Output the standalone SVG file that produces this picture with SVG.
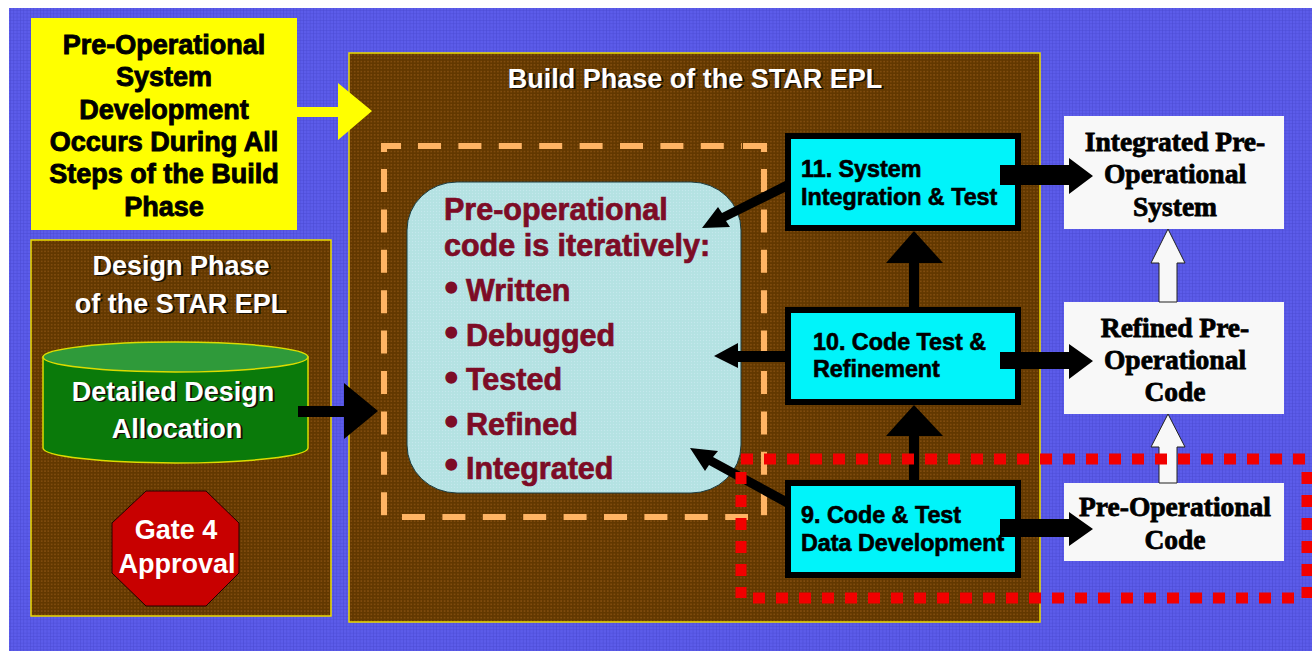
<svg xmlns="http://www.w3.org/2000/svg" width="1312" height="651" viewBox="0 0 1312 651">
<defs>
<pattern id="pBlue" width="3.330" height="3.330" patternUnits="userSpaceOnUse">
<rect width="3.330" height="3.330" fill="#5c5cea"/>
<path d="M0 0H3.330M0 0V3.330" stroke="#4a4ad2" stroke-width="1"/>
</pattern>
<pattern id="pBrown" width="3.330" height="3.330" patternUnits="userSpaceOnUse">
<rect width="3.330" height="3.330" fill="#623800"/>
<circle cx="1.700" cy="1.700" r=".9" fill="#865010"/>
</pattern>
<pattern id="pPale" width="3" height="3" patternUnits="userSpaceOnUse">
<rect width="3" height="3" fill="#b4e2e2"/>
<circle cx="1.500" cy="1.500" r=".7" fill="#c4e8ec"/>
</pattern>
</defs>
<style>
text{font-family:"Liberation Sans",Arial,sans-serif;font-weight:bold;text-anchor:middle}
.w{fill:#fff;font-size:27px}
.sh{fill:#14100a;font-size:27px}
.k{fill:#000;stroke:#000;stroke-width:.9px;font-size:27px}
.b{fill:#000;stroke:#000;stroke-width:.6px;font-size:23.300px;text-anchor:start}
.s{fill:#000;stroke:#000;stroke-width:.8px;font-family:"Liberation Serif","Times New Roman",serif;font-size:27.500px}
.m{fill:#7d0c26;stroke:#7d0c26;stroke-width:.7px;font-size:30.500px;text-anchor:start}
.dot{font-size:36px;stroke-width:1.500px}
.panel{fill:url(#pBrown);stroke:#ecdc00;stroke-width:1.500px}
.step{fill:#00f4fa;stroke:#000;stroke-width:6px}
.out{fill:#f8f8f8}
.ar{fill:#000}
.wa{fill:#f8f8f8;stroke:#222;stroke-width:1px}
.dash{fill:none;stroke:#ffb464;stroke-width:6px;stroke-dasharray:23 17.400}
.dot-line{fill:none;stroke:#f20000;stroke-width:11px;stroke-dasharray:12 11}
</style>
<rect x="0" y="0" width="1312" height="651" fill="#fff"/>
<rect x="9" y="8" width="1303" height="643" fill="url(#pBlue)"/>

<g id="design-phase">
<rect class="panel" x="31" y="240" width="300" height="376"/>
<text class="sh" x="183" y="276">Design Phase</text><text class="w" x="181" y="275">Design Phase</text>
<text class="sh" x="183" y="314">of the STAR EPL</text><text class="w" x="181" y="313">of the STAR EPL</text>
</g>
<g id="build-phase">
<rect class="panel" x="349" y="53" width="691" height="569"/>
<text class="sh" x="697" y="89">Build Phase of the STAR EPL</text><text class="w" x="695" y="88">Build Phase of the STAR EPL</text>
<path class="dash" style="stroke-dasharray:none" d="M384 152V146H401M743 146H764V152"/>
<path class="dash" d="M418 146H742"/>
<path class="dash" d="M384 169V518"/>
<path class="dash" d="M764 169V518"/>
<path class="dash" d="M402 517H748"/>
</g>
<g id="pre-op-note">
<rect x="31" y="18" width="266" height="212" fill="#ffff00"/>
<text class="k" x="164" y="54">Pre-Operational</text>
<text class="k" x="164" y="86">System</text>
<text class="k" x="164" y="119">Development</text>
<text class="k" x="164" y="151">Occurs During All</text>
<text class="k" x="164" y="183">Steps of the Build</text>
<text class="k" x="164" y="216">Phase</text>
</g>
<g id="iterative-code">
<rect x="407" y="182" width="334" height="311" rx="50" ry="48" fill="url(#pPale)" stroke="#1c3c40" stroke-width="1"/>
<text class="m" x="444" y="220">Pre-operational</text>
<text class="m" x="444" y="256">code is iteratively:</text>
<text class="m"><tspan class="dot" x="445" y="300">•</tspan><tspan x="466" y="301">Written</tspan></text>
<text class="m"><tspan class="dot" x="445" y="345">•</tspan><tspan x="466" y="346">Debugged</tspan></text>
<text class="m"><tspan class="dot" x="445" y="390">•</tspan><tspan x="466" y="390">Tested</tspan></text>
<text class="m"><tspan class="dot" x="445" y="434">•</tspan><tspan x="466" y="435">Refined</tspan></text>
<text class="m"><tspan class="dot" x="445" y="477">•</tspan><tspan x="466" y="479">Integrated</tspan></text>
</g>
<g id="detailed-design">
<path d="M43 357V448A132.500 15 0 0 0 308 448V357Z" fill="#0a7a0a" stroke="#dcdc00" stroke-width="1.500"/>
<ellipse cx="175.500" cy="357" rx="132.500" ry="15" fill="#2f9a3a" stroke="#dcdc00" stroke-width="1.500"/>
<text class="sh" x="175" y="402">Detailed Design</text><text class="w" x="173" y="401">Detailed Design</text>
<text class="sh" x="179" y="439">Allocation</text><text class="w" x="177" y="438">Allocation</text>
</g>
<g id="gate-4">
<polygon points="146,491 206,491 239,523 239,573 206,606 146,606 112,573 112,523" fill="#c80000" stroke="#200" stroke-width="1"/>
<text class="w" x="176" y="539">Gate 4</text>
<text class="w" x="177" y="573">Approval</text>
</g>
<g id="step-11">
<rect class="step" x="788" y="136" width="230" height="92"/>
<text class="b" x="801" y="177">11. System</text>
<text class="b" x="801" y="205">Integration &amp; Test</text>
</g>
<g id="step-10">
<rect class="step" x="788" y="310" width="230" height="92"/>
<text class="b" x="813" y="350">10. Code Test &amp;</text>
<text class="b" x="813" y="377">Refinement</text>
</g>
<g id="step-9">
<rect class="step" x="788" y="483" width="230" height="92"/>
<text class="b" x="801" y="523">9. Code &amp; Test</text>
<text class="b" x="801" y="551">Data Development</text>
</g>
<g id="integrated-system">
<rect class="out" x="1064" y="116" width="220" height="113"/>
<text class="s" x="1175" y="151">Integrated Pre-</text>
<text class="s" x="1175" y="183">Operational</text>
<text class="s" x="1175" y="216">System</text>
</g>
<g id="refined-code">
<rect class="out" x="1064" y="302" width="220" height="112"/>
<text class="s" x="1175" y="337">Refined Pre-</text>
<text class="s" x="1175" y="369">Operational</text>
<text class="s" x="1175" y="401">Code</text>
</g>
<g id="pre-op-code">
<rect class="out" x="1064" y="483" width="220" height="78"/>
<text class="s" x="1175" y="516">Pre-Operational</text>
<text class="s" x="1175" y="549">Code</text>
</g>
<g id="connectors">
<polygon fill="#ffff00" points="297,107 338,107 338,83 372,111 338,140 338,117 297,117"/>
<polygon class="ar" points="298,406 344,406 344,383 378,411 344,439 344,417 298,417"/>
<polygon class="ar" points="909,307 909,263 886,263 914,231 943,263 919,263 919,307"/>
<polygon class="ar" points="909,480 909,436 886,436 914,405 943,436 919,436 919,480"/>
<polygon class="ar" points="785,351 738,351 738,343 714,356 738,368 738,362 785,362"/>
<polygon class="ar" points="785,181 722,213 718,207 702,228 730,227 726,221 787,191"/>
<polygon class="ar" points="690,448 718,451 713,457 787,497 787,508 709,465 705,471"/>
<polygon class="ar" points="1000,165 1069,165 1069,158 1093,176 1069,194 1069,185 1000,185"/>
<polygon class="ar" points="1000,352 1069,352 1069,344 1093,361 1069,379 1069,369 1000,369"/>
<polygon class="ar" points="1000,519 1069,519 1069,512 1093,529 1069,546 1069,537 1000,537"/>
<polygon class="wa" points="1159,302 1159,263 1151,263 1168,229 1185,263 1177,263 1177,302"/>
<polygon class="wa" points="1159,483 1159,447 1151,447 1168,414 1185,447 1177,447 1177,483"/>
</g>
<g id="highlight">
<path class="dot-line" d="M741 459H1312"/>
<path class="dot-line" d="M1307 472V598"/>
<path class="dot-line" d="M753 598H1300"/>
<path class="dot-line" d="M741 472V598"/>
</g>
</svg>
